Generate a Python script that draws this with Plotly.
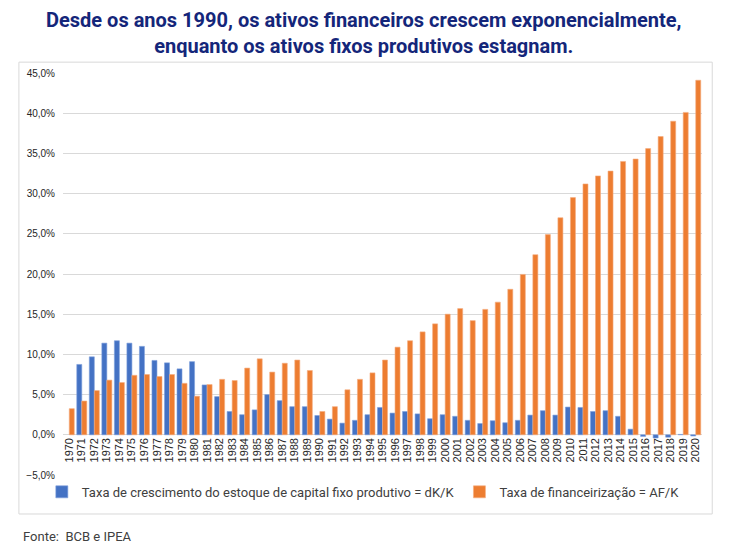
#!/usr/bin/env python3
# required dependencies: plotly

import plotly.graph_objects as go

anos = [str(a) for a in range(1970, 2021)]

# taxa de crescimento do estoque de capital fixo produtivo (dK/K), em %
dk_k = [None, 8.75, 9.7, 11.4, 11.7, 11.4, 11.0, 9.25, 8.95, 8.2,
        9.1, 6.2, 4.75, 2.9, 2.5, 3.1, 5.0, 4.25, 3.5, 3.5,
        2.4, 1.95, 1.45, 1.8, 2.5, 3.4, 2.7, 2.9, 2.6, 2.0,
        2.5, 2.3, 1.8, 1.4, 1.75, 1.5, 1.8, 2.45, 3.0, 2.45,
        3.45, 3.4, 2.9, 3.0, 2.3, 0.7, -0.2, -0.4, -0.3, 0.05,
        -0.15]

# taxa de financeirização (AF/K), em %
af_k = [3.25, 4.2, 5.5, 6.8, 6.5, 7.4, 7.5, 7.25, 7.5, 6.4,
        4.8, 6.25, 6.9, 6.75, 8.3, 9.45, 7.8, 8.9, 9.3, 8.0,
        2.9, 3.5, 5.6, 6.9, 7.7, 9.3, 10.9, 11.7, 12.8, 13.8,
        15.0, 15.7, 14.2, 15.6, 16.5, 18.1, 19.95, 22.4, 24.9, 27.0,
        29.5, 31.2, 32.2, 32.8, 34.0, 34.3, 35.6, 37.1, 39.0, 40.1,
        44.1]

nome_dk = "Taxa de crescimento do estoque de capital fixo produtivo = dK/K"
nome_af = "Taxa de financeirização = AF/K"

titulo = ("Desde os anos 1990, os ativos financeiros crescem exponencialmente,<br>"
          "enquanto os ativos fixos produtivos estagnam.")

fig = go.Figure()
fig.add_trace(go.Bar(x=anos, y=dk_k, name=nome_dk,
                     marker=dict(color="#4472C4", line=dict(color="#7da0dc", width=0.6))))
fig.add_trace(go.Bar(x=anos, y=af_k, name=nome_af,
                     marker=dict(color="#ED7D31", line=dict(color="#f5ad80", width=0.6))))

# moldura do gráfico
fig.add_shape(type="rect", xref="paper", yref="paper",
              x0=-0.069, x1=1.016, y0=-0.097, y1=1.027,
              line=dict(color="#d9d9d9", width=1), fillcolor="rgba(0,0,0,0)", layer="below")

fig.add_annotation(text=titulo, xref="paper", yref="paper",
                   x=0.471, y=1.1, xanchor="center", yanchor="middle", showarrow=False,
                   align="center",
                   font=dict(family="Roboto", size=20, color="#14267a", weight="bold"))

fig.add_annotation(text="Fonte:  BCB e IPEA", xref="paper", yref="paper",
                   x=-0.066, y=-0.152, xanchor="left", yanchor="middle", showarrow=False,
                   font=dict(family="Roboto", size=13, color="#404040"))

# a página tem 8px de margem no body: a figura é deslocada para compensar
fig.update_layout(
    width=721, height=544,
    margin=dict(l=55, r=27, t=65, b=77, autoexpand=False),
    paper_bgcolor="white", plot_bgcolor="white",
    separators=",.",
    barmode="group", bargap=0.2, bargroupgap=0.0,
    legend=dict(orientation="h", x=0.47, xanchor="center", y=-0.042, yanchor="middle",
                font=dict(family="Roboto", size=13, color="#404040"),
                bgcolor="rgba(0,0,0,0)", itemwidth=30, tracegroupgap=0),
    xaxis=dict(type="category", tickangle=-90, anchor="free", position=0.1,
               tickmode="array", tickvals=anos, ticktext=anos,
               showgrid=False, showline=False, ticks="", automargin=False,
               tickfont=dict(family="Liberation Sans", size=11, color="#262626")),
    yaxis=dict(range=[-5, 45], dtick=5, tickformat=".1f", ticksuffix="%",
               showgrid=True, gridcolor="#d9d9d9", gridwidth=1,
               zeroline=False, showline=False, ticks="", automargin=False,
               ticklabelstandoff=7,
               tickfont=dict(family="Liberation Sans", size=10, color="#262626")),
)

fig.write_html("out.html")
